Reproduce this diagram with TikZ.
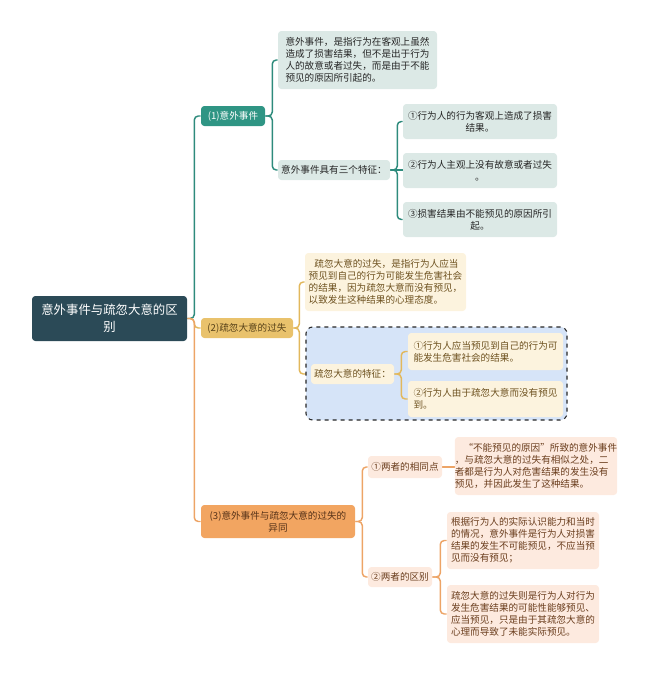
\documentclass[tikz,border=0pt]{standalone}
\usepackage{fontspec}
\setmainfont{Noto Sans CJK SC}
\usetikzlibrary{backgrounds}
\definecolor{rootc}{HTML}{2B4A57}
\definecolor{tealb}{HTML}{2F9584}
\definecolor{tealleaf}{HTML}{DCE9E6}
\definecolor{tealline}{HTML}{2E8B7C}
\definecolor{goldb}{HTML}{E9C26C}
\definecolor{goldleaf}{HTML}{FCF3DE}
\definecolor{goldtext}{HTML}{6E5220}
\definecolor{goldline}{HTML}{E2B85C}
\definecolor{bluebg}{HTML}{D6E4F8}
\definecolor{orb}{HTML}{F2A561}
\definecolor{orleaf}{HTML}{FDEADF}
\definecolor{ortext}{HTML}{6B3E1E}
\definecolor{orline}{HTML}{EDA466}
\def\u{0.75pt}
\tikzset{
  wh/.style 2 args={minimum width={#1*\u}, minimum height={#2*\u}},
  box/.style={rounded corners=2.5pt, inner sep=0pt, align=center,
    font=\fontsize{7.2pt}{9pt}\selectfont},
  rootbox/.style={box, fill=rootc, text=white, font=\fontsize{9.3pt}{12.5pt}\selectfont},
  tb/.style={box, fill=tealb, text=white},
  tl/.style={box, fill=tealleaf, text=black!85},
  gb/.style={box, fill=goldb, text=goldtext!80!black},
  gl/.style={box, fill=goldleaf, text=goldtext},
  ob/.style={box, fill=orb, text=ortext!80!black},
  ol/.style={box, fill=orleaf, text=ortext},
  tline/.style={draw=tealline, line width=1.1pt, rounded corners=3pt},
  gline/.style={draw=goldline, line width=1.1pt, rounded corners=3pt},
  oline/.style={draw=orline, line width=1.1pt, rounded corners=3pt},
}
\begin{document}
\begin{tikzpicture}[x=0.75pt, y=-0.75pt]
\useasboundingbox (0,0) rectangle (647,675);
% root
\node[rootbox, wh={155}{45}] (root) at (109.5,318.5) {意外事件与疏忽大意的区\\别};
% branch 1
\node[tb, wh={64}{20}] (b1) at (233,116) {(1)意外事件};
\node[tl, wh={159}{58}, align=left] (l1a) at (357.5,60) {意外事件，是指行为在客观上虽然\\造成了损害结果，但不是出于行为\\人的故意或者过失，而是由于不能\\预见的原因所引起的。};
\node[tl, wh={112}{20}] (l1b) at (334,170) {意外事件具有三个特征：};
\node[tl, wh={154}{35}] (s1) at (480,121.5) {①行为人的行为客观上造成了损害\\结果。};
\node[tl, wh={154}{35}] (s2) at (480,170.5) {②行为人主观上没有故意或者过失\\。};
\node[tl, wh={154}{35}] (s3) at (480,219.5) {③损害结果由不能预见的原因所引\\起。};
% branch 2
\node[gb, wh={92}{20}] (b2) at (247,328) {(2)疏忽大意的过失};
\node[gl, wh={161}{58}, align=left] (l2a) at (385.5,282) {\hspace{0.6em}疏忽大意的过失，是指行为人应当\\预见到自己的行为可能发生危害社会\\的结果，因为疏忽大意而没有预见，\\以致发生这种结果的心理态度。};
\node[draw=black!85, dashed, line width=0.8pt, fill=bluebg, rounded corners=5pt, wh={261}{93}] (grp) at (436.5,373.5) {};
\node[gl, wh={83}{20}] (f2) at (352.5,374) {疏忽大意的特征：};
\node[gl, wh={155}{37}, align=left] (s21) at (485.5,351.5) {①行为人应当预见到自己的行为可\\能发生危害社会的结果。};
\node[gl, wh={155}{36}, align=left] (s22) at (485.5,399) {②行为人由于疏忽大意而没有预见\\到。};
% branch 3
\node[ob, wh={154}{33}] (b3) at (278,521.5) {(3)意外事件与疏忽大意的过失的\\异同};
\node[ol, wh={74}{22}] (c1) at (405,467) {①两者的相同点};
\node[ol, wh={160}{58}, align=left] (l3a) at (536,466) {\hspace{0.9em}“不能预见的原因”所致的意外事件\\，与疏忽大意的过失有相似之处，二\\者都是行为人对危害结果的发生没有\\预见，并因此发生了这种结果。};
\node[ol, wh={64}{20}] (c2) at (400,577) {②两者的区别};
\node[ol, wh={152}{57}, align=left] (l3b1) at (523,540.5) {根据行为人的实际认识能力和当时\\的情况，意外事件是行为人对损害\\结果的发生不可能预见，不应当预\\见而没有预见；};
\node[ol, wh={152}{58}, align=left] (l3b2) at (523,614) {疏忽大意的过失则是行为人对行为\\发生危害结果的可能性能够预见、\\应当预见，只是由于其疏忽大意的\\心理而导致了未能实际预见。};
% connectors
\begin{scope}[on background layer]
\draw[tline] (root.east) -- ++(7,0) |- (b1.west);
\draw[gline] (root.east) -- ++(7,0) |- (b2.west);
\draw[oline] (root.east) -- ++(7,0) |- (b3.west);
\draw[tline] (b1.east) -- ++(7,0) |- (l1a.west);
\draw[tline] (b1.east) -- ++(7,0) |- (l1b.west);
\draw[tline] (l1b.east) -- ++(7,0) |- (s1.west);
\draw[tline] (l1b.east) -- (l1b.east -| s2.west);
\draw[tline] (l1b.east) -- ++(7,0) |- (s3.west);
\draw[gline] (b2.east) -- ++(6,0) |- (l2a.west);
\draw[gline] (b2.east) -- ++(6,0) |- (f2.west);
\draw[oline] (b3.east) -- ++(7,0) |- (c1.west);
\draw[oline] (b3.east) -- ++(7,0) |- (c2.west);
\draw[oline] (c1.east) -- (c1.east -| l3a.west);
\draw[oline] (c2.east) -- ++(8,0) |- (l3b1.west);
\draw[oline] (c2.east) -- ++(8,0) |- (l3b2.west);
\end{scope}
\draw[gline] (f2.east) -- ++(7,0) |- (s21.west);
\draw[gline] (f2.east) -- ++(7,0) |- (s22.west);
\end{tikzpicture}
\end{document}
